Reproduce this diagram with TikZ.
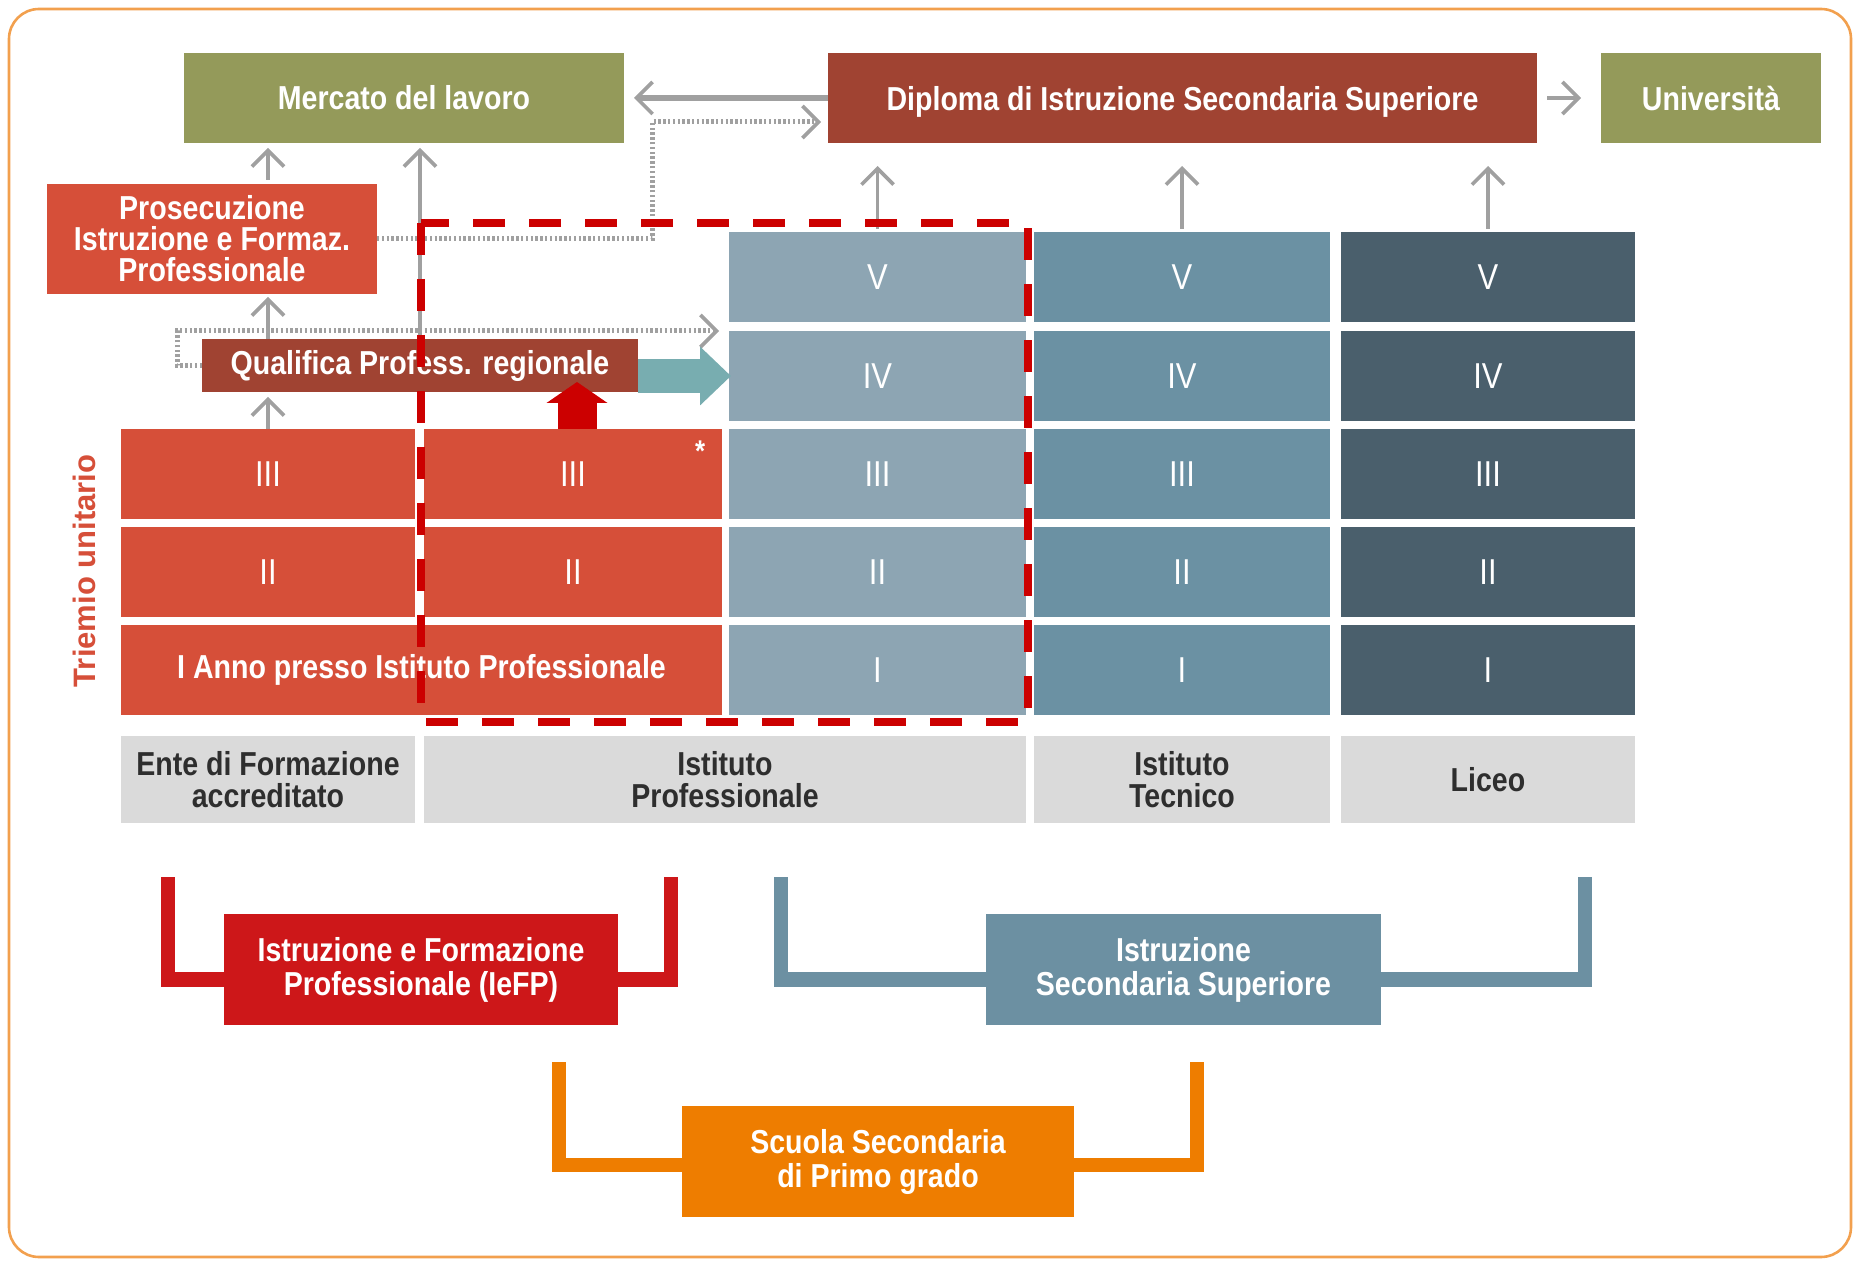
\documentclass[tikz,border=0pt]{standalone}
\usepackage{fontspec}
\setmainfont{Liberation Sans}
\newfontfamily\cond[FakeStretch=0.86]{Liberation Sans}
\usetikzlibrary{arrows.meta}
\definecolor{cOlive}{HTML}{949A5A}
\definecolor{cBrown}{HTML}{A04332}
\definecolor{cRed}{HTML}{D64F39}
\definecolor{cC3}{HTML}{8DA5B3}
\definecolor{cC4}{HTML}{6B91A3}
\definecolor{cC5}{HTML}{4A5F6C}
\definecolor{cLbl}{HTML}{DADADA}
\definecolor{cLblTxt}{HTML}{2E2E2E}
\definecolor{cIeFP}{HTML}{CD1719}
\definecolor{cISS}{HTML}{6C90A2}
\definecolor{cScuola}{HTML}{EE7D00}
\definecolor{cBorder}{HTML}{F2A04E}
\definecolor{cGray}{HTML}{A0A0A0}
\definecolor{cTeal}{HTML}{78ADB0}
\definecolor{cDash}{HTML}{CC0000}
\tikzset{
  box/.style={rectangle, inner sep=0pt, outer sep=0pt, align=center, text=white, anchor=north west,
    font=\cond\bfseries\fontsize{16.6}{16}\selectfont},
  num/.style={box, font=\cond\fontsize{18}{18}\selectfont},
  lbl/.style={box, fill=cLbl, text=cLblTxt},
  garrow/.style={draw=cGray, line width=1.8pt, -{Straight Barb[length=8pt,width=16pt,line width=1.8pt]}},
  gdot/.style={draw=cGray, line width=2.5pt, dash pattern=on 1.2pt off 1.2pt, -{Straight Barb[length=8pt,width=16pt,line width=1.8pt]}},
  bracketline/.style={line width=7.3pt, miter limit=10},
}
\begin{document}
\begin{tikzpicture}[x=0.5pt,y=-0.5pt]
\useasboundingbox (0,0) rectangle (1859,1261);
\draw[cBorder, line width=1.3pt, rounded corners=15pt] (9,9) rectangle (1851,1257);

% top row
\node[box, fill=cOlive, minimum width=220pt, minimum height=45pt] (merc) at (184,53) {Mercato del lavoro};
\node[box, fill=cBrown, minimum width=354.5pt, minimum height=45pt, text depth=0pt] (dip) at (828,53) {Diploma di Istruzione Secondaria Superiore};
\node[box, fill=cOlive, minimum width=110pt, minimum height=45pt] (uni) at (1601,53) {Università};
\node[box, fill=cRed, minimum width=165pt, minimum height=55pt, font=\cond\bfseries\fontsize{16.6}{15.5}\selectfont] (pros) at (47,184) {Prosecuzione\\Istruzione e Formaz.\\Professionale};
\node[box, fill=cBrown, minimum width=218pt, minimum height=26.5pt] (qual) at (202,339) {Qualifica Profess. regionale};

% column 1 and 2
\node[num, fill=cRed, minimum width=147pt, minimum height=45pt] (c1III) at (121,429) {III};
\node[num, fill=cRed, minimum width=147pt, minimum height=45pt] (c1II) at (121,527) {II};
\node[num, fill=cRed, minimum width=149pt, minimum height=45pt] (c2III) at (424,429) {III};
\node[num, fill=cRed, minimum width=149pt, minimum height=45pt] (c2II) at (424,527) {II};
\node[box, fill=cRed, minimum width=300.5pt, minimum height=45pt] (rI) at (121,625) {I Anno presso Istituto Professionale};
\node[box, font=\cond\bfseries\fontsize{15}{15}\selectfont] (star) at (695,441) {*};

% column 3
\node[num, fill=cC3, minimum width=148.5pt, minimum height=45pt] (c3V) at (729,232) {V};
\node[num, fill=cC3, minimum width=148.5pt, minimum height=45pt] (c3IV) at (729,331) {IV};
\node[num, fill=cC3, minimum width=148.5pt, minimum height=45pt] (c3III) at (729,429) {III};
\node[num, fill=cC3, minimum width=148.5pt, minimum height=45pt] (c3II) at (729,527) {II};
\node[num, fill=cC3, minimum width=148.5pt, minimum height=45pt] (c3I) at (729,625) {I};
% column 4
\node[num, fill=cC4, minimum width=148pt, minimum height=45pt] (c4V) at (1034,232) {V};
\node[num, fill=cC4, minimum width=148pt, minimum height=45pt] (c4IV) at (1034,331) {IV};
\node[num, fill=cC4, minimum width=148pt, minimum height=45pt] (c4III) at (1034,429) {III};
\node[num, fill=cC4, minimum width=148pt, minimum height=45pt] (c4II) at (1034,527) {II};
\node[num, fill=cC4, minimum width=148pt, minimum height=45pt] (c4I) at (1034,625) {I};
% column 5
\node[num, fill=cC5, minimum width=147pt, minimum height=45pt] (c5V) at (1341,232) {V};
\node[num, fill=cC5, minimum width=147pt, minimum height=45pt] (c5IV) at (1341,331) {IV};
\node[num, fill=cC5, minimum width=147pt, minimum height=45pt] (c5III) at (1341,429) {III};
\node[num, fill=cC5, minimum width=147pt, minimum height=45pt] (c5II) at (1341,527) {II};
\node[num, fill=cC5, minimum width=147pt, minimum height=45pt] (c5I) at (1341,625) {I};

% labels
\node[lbl, minimum width=147pt, minimum height=43.5pt] (l1) at (121,736) {Ente di Formazione\\accreditato};
\node[lbl, minimum width=301pt, minimum height=43.5pt] (l2) at (424,736) {Istituto\\Professionale};
\node[lbl, minimum width=148pt, minimum height=43.5pt] (l4) at (1034,736) {Istituto\\Tecnico};
\node[lbl, minimum width=147pt, minimum height=43.5pt] (l5) at (1341,736) {Liceo};

% side label
\node[rotate=90, text=cRed, inner sep=0pt, font=\bfseries\fontsize{15.5}{15.5}\selectfont] (tri) at (84,571) {Triemio unitario};

% bottom groups
\draw[bracketline, cIeFP] (168,877) |- (671,979.5) -- (671,877);
\node[box, fill=cIeFP, minimum width=197pt, minimum height=55.5pt, font=\cond\bfseries\fontsize{16.6}{17}\selectfont] (iefp) at (224,914) {Istruzione e Formazione\\Professionale (IeFP)};
\draw[bracketline, cISS] (781,877) |- (1585,979.5) -- (1585,877);
\node[box, fill=cISS, minimum width=197.5pt, minimum height=55.5pt, font=\cond\bfseries\fontsize{16.6}{17}\selectfont] (iss) at (986,914) {Istruzione\\Secondaria Superiore};
\draw[bracketline, cScuola] (559,1062) |- (1197,1165) -- (1197,1062);
\node[box, fill=cScuola, minimum width=196pt, minimum height=55.5pt, font=\cond\bfseries\fontsize{16.6}{17}\selectfont] (scuola) at (682,1106) {Scuola Secondaria\\di Primo grado};

% gray arrows
\draw[garrow, shorten <=2pt, shorten >=2.5pt] (pros.north -| c1III.north) -- (merc.south -| c1III.north);
\draw[garrow, shorten >=1.5pt] (qual.north -| c1III.north) -- (pros.south -| c1III.north);
\draw[garrow, shorten >=2.5pt] (c1III.north) -- (qual.south -| c1III.north);
\draw[garrow, shorten <=-3pt, shorten >=2.5pt] (qual.north) -- (merc.south -| qual.north);
\draw[garrow, shorten <=1.5pt, shorten >=11.5pt] (c3V.north) -- (dip.south -| c3V.north);
\draw[garrow, shorten <=1.5pt, shorten >=11.5pt] (c4V.north) -- (dip.south -| c4V.north);
\draw[garrow, shorten <=1.5pt, shorten >=11.5pt] (c5V.north) -- (dip.south -| c5V.north);
\draw[garrow, line width=3pt, shorten >=5pt] (dip.west) -- (merc.east);
\draw[garrow, shorten <=5pt, shorten >=10pt] (dip.east) -- (uni.west);

% dotted paths
\coordinate (d1) at (652,239);
\draw[gdot, shorten >=3.5pt] (pros.east) -- (d1) |- ([yshift=-12pt]dip.west);
\draw[gdot, shorten >=5pt] (qual.west) -- ++(-25,0) |- (c3IV.north west);

% fat arrows
\draw[cTeal, line width=17pt, -{Triangle[length=15.5pt,width=28.5pt]}] (qual.east |- c3IV.west) -- ([xshift=1pt]c3IV.west);
\draw[cDash, line width=19.5pt, -{Triangle[length=10.5pt,width=30pt]}] ([xshift=2pt]c2III.north) -- ++(0,-47);

% red dashed frame
\draw[cDash, line width=3.8pt, dash pattern=on 16pt off 12pt] (421,223) rectangle (1028,722);
\end{tikzpicture}
\end{document}
